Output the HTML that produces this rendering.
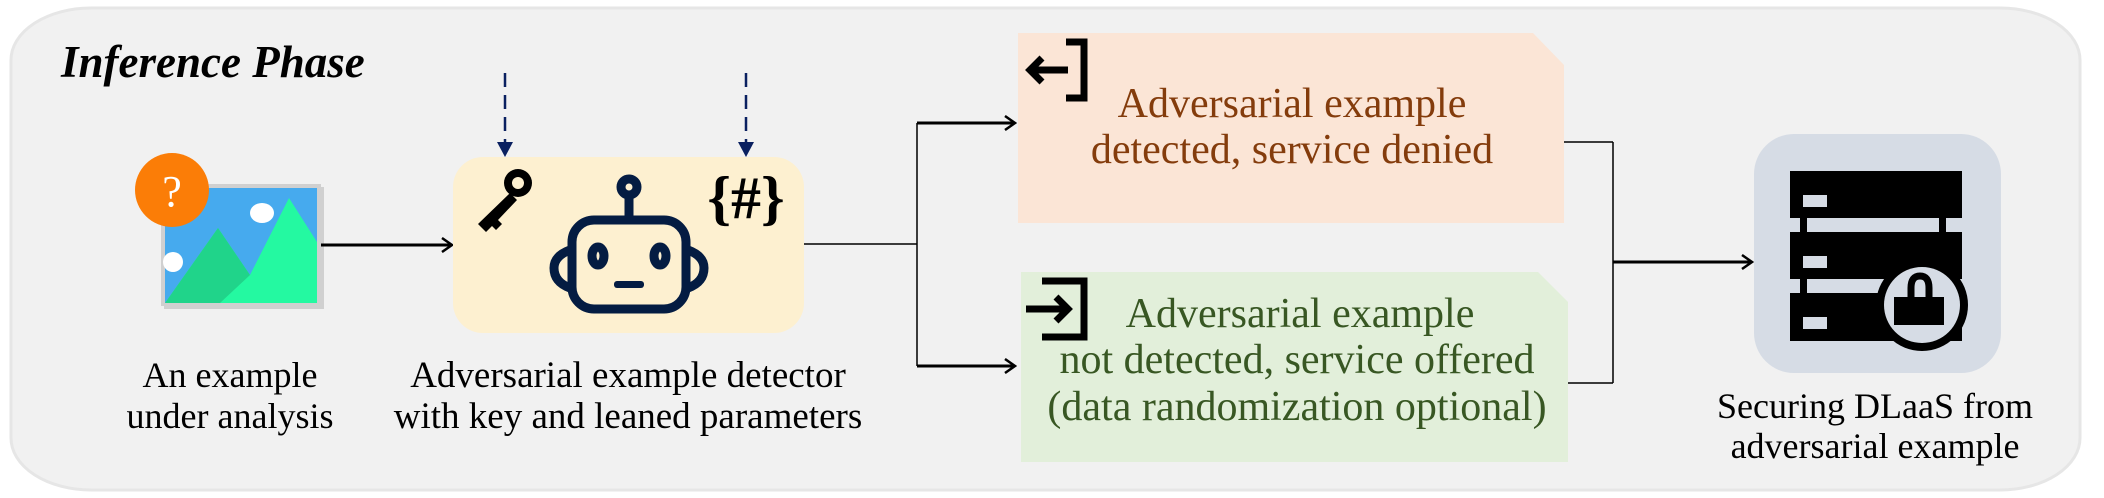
<!DOCTYPE html>
<html><head><meta charset="utf-8"><style>
html,body{margin:0;padding:0;background:#fff;}
svg{display:block;}
text{font-family:"Liberation Serif",serif;}
</style></head><body>
<svg width="2104" height="498" viewBox="0 0 2104 498" xmlns="http://www.w3.org/2000/svg">
<defs>
<marker id="ah" markerWidth="14" markerHeight="16" refX="12" refY="8" orient="auto" markerUnits="userSpaceOnUse">
<path d="M2,1 L12,8 L2,15" fill="none" stroke="#000" stroke-width="2.5"/>
</marker>
</defs>
<rect x="11" y="8" width="2069" height="482" rx="80" ry="52" fill="#f1f1f1" stroke="#e6e6e6" stroke-width="3"/>
<text x="61" y="77" font-size="45" font-weight="bold" font-style="italic">Inference Phase</text>

<!-- image icon -->
<rect x="164" y="187" width="160" height="122" fill="#bbb" opacity="0.6"/>
<rect x="161" y="184" width="160" height="122" fill="#d0d0d0"/>
<rect x="165" y="188" width="152" height="115" fill="#46aaee"/>
<polygon points="165,303 218,228 250,275 289,198 317,242 317,303" fill="#24f9a1"/>
<polygon points="165,303 218,228 250,275 220,303" fill="#20d48a"/>
<ellipse cx="262" cy="213" rx="12" ry="10" fill="#fff"/>
<ellipse cx="173" cy="262" rx="10" ry="10" fill="#fff"/>
<circle cx="172" cy="190" r="37" fill="#fb7d07"/>
<text x="172" y="206" font-size="44" fill="#fff" text-anchor="middle" font-family="Liberation Sans">?</text>
<line x1="321" y1="245" x2="452" y2="245" stroke="#000" stroke-width="3" marker-end="url(#ah)"/>

<!-- detector -->
<rect x="453" y="157" width="351" height="176" rx="30" fill="#fdf0d0"/>
<line x1="505" y1="73" x2="505" y2="145" stroke="#0a2060" stroke-width="2.5" stroke-dasharray="14,8"/>
<polygon points="497,142 513,142 505,157" fill="#0a2060"/>
<line x1="746" y1="73" x2="746" y2="145" stroke="#0a2060" stroke-width="2.5" stroke-dasharray="14,8"/>
<polygon points="738,142 754,142 746,157" fill="#0a2060"/>
<!-- key -->
<circle cx="518" cy="183" r="14" fill="#000"/>
<circle cx="518" cy="183" r="6" fill="#fdf0d0"/>
<path d="M510,193 L478,224 L486,232 L492,226 L496,230 L502,224 L498,220 L517,200 Z" fill="#000"/>
<!-- robot -->
<g fill="none" stroke="#041c42" stroke-width="9">
<circle cx="629" cy="187" r="8"/>
<line x1="629" y1="195" x2="629" y2="218"/>
<rect x="572" y="220" width="114" height="89" rx="22"/>
<path d="M570,250 Q554,256 554,268 Q554,282 570,288"/>
<path d="M688,250 Q704,256 704,268 Q704,282 688,288"/>
<ellipse cx="598" cy="256" rx="6" ry="9"/>
<ellipse cx="660" cy="256" rx="6" ry="9"/>
</g>
<rect x="614" y="281" width="30" height="7" rx="3" fill="#041c42"/>
<text x="746" y="218" font-size="60" font-weight="bold" text-anchor="middle" font-family="Liberation Mono">{#}</text>

<line x1="804" y1="244" x2="917" y2="244" stroke="#000" stroke-width="1.5"/>
<line x1="917" y1="123" x2="917" y2="366" stroke="#000" stroke-width="1.5"/>
<line x1="917" y1="123" x2="1015" y2="123" stroke="#000" stroke-width="3" marker-end="url(#ah)"/>
<line x1="917" y1="366" x2="1015" y2="366" stroke="#000" stroke-width="3" marker-end="url(#ah)"/>

<text x="230" y="387" font-size="36" text-anchor="middle">An example</text>
<text x="230" y="428" font-size="36" text-anchor="middle">under analysis</text>
<text x="628" y="387" font-size="37" text-anchor="middle">Adversarial example detector</text>
<text x="628" y="428" font-size="37" text-anchor="middle">with key and leaned parameters</text>

<!-- orange box -->
<polygon points="1018,33 1533,33 1564,65 1564,223 1018,223" fill="#fbe5d6"/>
<g fill="none" stroke="#000" stroke-width="7">
<path d="M1066,42 L1084,42 L1084,98 L1066,98"/>
<line x1="1030" y1="70" x2="1068" y2="70"/>
<path d="M1042,58 L1030,70 L1042,82"/>
</g>
<text x="1292" y="117" font-size="42" fill="#843c0c" text-anchor="middle">Adversarial example</text>
<text x="1292" y="163" font-size="42" fill="#843c0c" text-anchor="middle">detected, service denied</text>

<!-- green box -->
<polygon points="1021,272 1538,272 1568,302 1568,462 1021,462" fill="#e2efda"/>
<g fill="none" stroke="#000" stroke-width="7">
<path d="M1042,281 L1084,281 L1084,337 L1042,337"/>
<line x1="1026" y1="309" x2="1066" y2="309"/>
<path d="M1056,297 L1068,309 L1056,321"/>
</g>
<text x="1300" y="327" font-size="42" fill="#385723" text-anchor="middle">Adversarial example</text>
<text x="1297" y="373" font-size="42" fill="#385723" text-anchor="middle">not detected, service offered</text>
<text x="1297" y="420" font-size="42" fill="#385723" text-anchor="middle">(data randomization optional)</text>

<line x1="1564" y1="142" x2="1613" y2="142" stroke="#000" stroke-width="1.5"/>
<line x1="1613" y1="142" x2="1613" y2="383" stroke="#000" stroke-width="1.5"/>
<line x1="1568" y1="383" x2="1613" y2="383" stroke="#000" stroke-width="1.5"/>
<line x1="1613" y1="262" x2="1752" y2="262" stroke="#000" stroke-width="3" marker-end="url(#ah)"/>

<!-- server -->
<rect x="1754" y="134" width="247" height="239" rx="40" fill="#d6dce5"/>
<rect x="1790" y="171" width="172" height="47" fill="#000"/>
<rect x="1790" y="232" width="172" height="47" fill="#000"/>
<rect x="1790" y="293" width="172" height="48" fill="#000"/>
<rect x="1800" y="216" width="7" height="80" fill="#000"/>
<rect x="1939" y="216" width="7" height="20" fill="#000"/>
<rect x="1803" y="195" width="24" height="12" fill="#d6dce5"/>
<rect x="1803" y="256" width="24" height="12" fill="#d6dce5"/>
<rect x="1803" y="317" width="24" height="12" fill="#d6dce5"/>
<circle cx="1922" cy="305" r="46" fill="#000"/>
<circle cx="1922" cy="305" r="38" fill="#d6dce5"/>
<path d="M1911,300 L1911,288 Q1911,276 1920,276 Q1929,276 1929,288 L1929,300" fill="none" stroke="#000" stroke-width="7"/>
<rect x="1894" y="297" width="50" height="28" fill="#000"/>
<text x="1875" y="418" font-size="36" text-anchor="middle">Securing DLaaS from</text>
<text x="1875" y="458" font-size="36" text-anchor="middle">adversarial example</text>
</svg>
</body></html>
